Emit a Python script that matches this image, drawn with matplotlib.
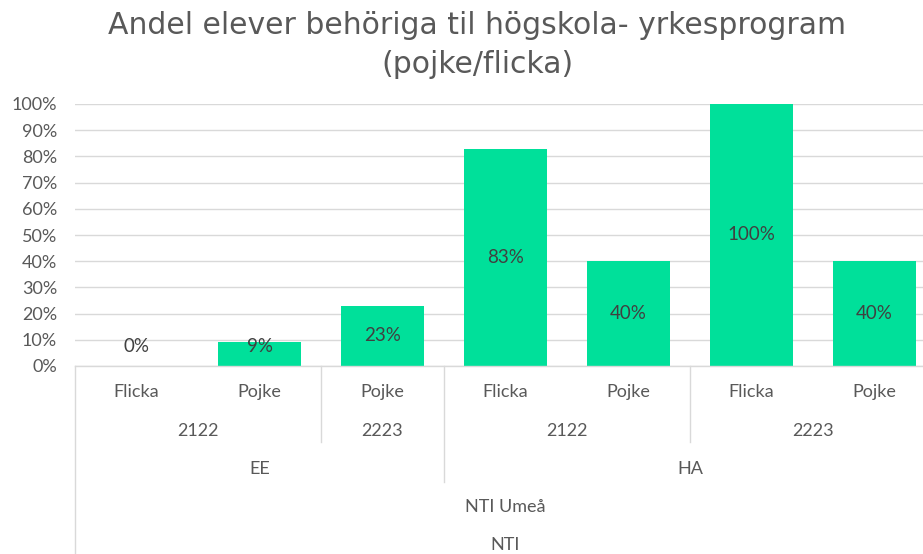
import matplotlib.pyplot as plt
from matplotlib.lines import Line2D
import numpy as np

plt.rcParams['font.family'] = ['Lato', 'DejaVu Sans']

# data
genders = ['Flicka', 'Pojke', 'Pojke', 'Flicka', 'Pojke', 'Flicka', 'Pojke']
values = [0.0, 0.09, 0.23, 0.83, 0.40, 1.00, 0.40]
years = [('2122', 0, 2), ('2223', 2, 3), ('2122', 3, 5), ('2223', 5, 7)]
programs = [('EE', 0, 3), ('HA', 3, 7)]
school = ('NTI Umeå', 0, 7)
org = ('NTI', 0, 7)

W, H = 923, 554
fig = plt.figure(figsize=(W / 100, H / 100), dpi=100)

x0, x1 = 75, 936
ytop, ybot = 104, 366
ax = fig.add_axes([x0 / W, 1 - ybot / H, (x1 - x0) / W, (ybot - ytop) / H])

green = '#00E09A'
txt = '#595959'
grid = '#D9D9D9'

x = np.arange(len(values))
ax.bar(x, values, width=0.67, color=green, zorder=2)
for xi, v in zip(x, values):
    ax.text(xi, max(v / 2, 0.075), f'{round(v * 100):.0f}%', ha='center', va='center',
            fontsize=13.5, color='#404040', zorder=3)

ax.set_xlim(-0.5, len(values) - 0.5)
ax.set_ylim(0, 1)
ax.set_yticks(np.arange(0, 1.01, 0.1))
ax.set_yticklabels([f'{int(t * 100)}%' for t in np.arange(0, 1.01, 0.1)])
ax.tick_params(axis='y', length=0, labelsize=13, labelcolor=txt, pad=13)
ax.tick_params(axis='x', length=0, labelbottom=False)
ax.yaxis.grid(True, color=grid, linewidth=1)
ax.set_axisbelow(True)
for s in ['top', 'right', 'left']:
    ax.spines[s].set_visible(False)
ax.spines['bottom'].set_color(grid)
ax.spines['bottom'].set_linewidth(1)


def fx(xd):
    # data x -> figure pixel x
    return x0 + (xd + 0.5) / len(values) * (x1 - x0)


def vline(xd, ybottom):
    px = fx(xd)
    fig.add_artist(Line2D([px / W, px / W], [1 - ybot / H, 1 - ybottom / H],
                          color=grid, linewidth=1))


def label(s, a, b, ypix):
    xc = (fx(a - 0.5) + fx(b - 0.5)) / 2
    fig.text(xc / W, 1 - ypix / H, s, ha='center', va='center', fontsize=13, color=txt)


for xi, g in enumerate(genders):
    label(g, xi, xi + 1, 392)
for s, a, b in years:
    label(s, a, b, 431)
for s, a, b in programs:
    label(s, a, b, 469)
label(school[0], school[1], school[2], 507)
label(org[0], org[1], org[2], 545)

# separators
vline(-0.5, H)
vline(1.5, 442)
vline(4.5, 442)
vline(2.5, 482)

fig.text(477 / W, 1 - 45 / H, 'Andel elever behöriga til högskola- yrkesprogram\n(pojke/flicka)',
         ha='center', va='center', fontsize=21.5, color=txt, linespacing=1.4,
         family='DejaVu Sans')

fig.savefig('out.png', dpi=100)
